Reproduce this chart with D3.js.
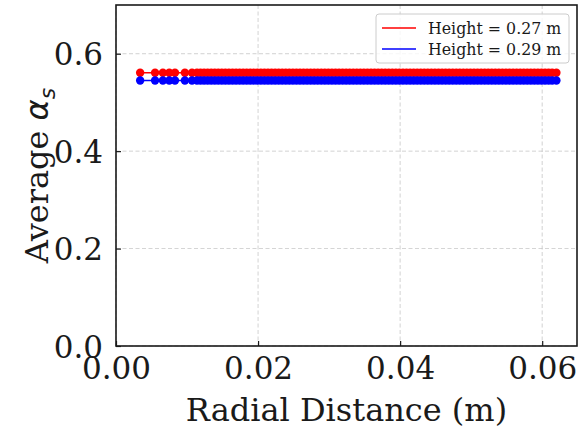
<!DOCTYPE html>
<html>
<head>
<meta charset="utf-8">
<script src="https://cdn.jsdelivr.net/npm/d3@7/dist/d3.min.js"></script>
<style>
  html, body { margin: 0; padding: 0; background: #fff; }
  svg { display: block; }
  text { font-family: "DejaVu Serif", serif; fill: #1a1a1a; }
</style>
</head>
<body>
<svg id="chart" width="579" height="434"></svg>
<script>
// Radial sample positions (m)
const radialDistance = [
  0.0034, 0.0055, 0.0066, 0.0075, 0.0083, 0.0097, 0.0107, 0.0114,
  0.0119, 0.0124, 0.0129, 0.0134, 0.0139, 0.0144, 0.0149, 0.0154, 0.0159, 0.0164,
  0.0169, 0.0174, 0.0179, 0.0184, 0.0189, 0.0194, 0.0199, 0.0204, 0.0209, 0.0214,
  0.0219, 0.0224, 0.0229, 0.0234, 0.0239, 0.0244, 0.0249, 0.0254, 0.0259, 0.0264,
  0.0269, 0.0274, 0.0279, 0.0284, 0.0289, 0.0294, 0.0299, 0.0304, 0.0309, 0.0314,
  0.0319, 0.0324, 0.0329, 0.0334, 0.0339, 0.0344, 0.0349, 0.0354, 0.0359, 0.0364,
  0.0369, 0.0374, 0.0379, 0.0384, 0.0389, 0.0394, 0.0399, 0.0404, 0.0409, 0.0414,
  0.0419, 0.0424, 0.0429, 0.0434, 0.0439, 0.0444, 0.0449, 0.0454, 0.0459, 0.0464,
  0.0469, 0.0474, 0.0479, 0.0484, 0.0489, 0.0494, 0.0499, 0.0504, 0.0509, 0.0514,
  0.0519, 0.0524, 0.0529, 0.0534, 0.0539, 0.0544, 0.0549, 0.0554, 0.0559, 0.0564,
  0.0569, 0.0574, 0.0579, 0.0584, 0.0589, 0.0594, 0.0599, 0.0604, 0.0609, 0.0614,
  0.0620
];
// Average solid fraction at each height
const alphaH027 = 0.561;
const alphaH029 = 0.545;
const seriesNames = ["Height = 0.27 m", "Height = 0.29 m"];
const seriesColors = ["#ff0000", "#0000ff"];
const xTicks = [0.00, 0.02, 0.04, 0.06];
const yTicks = [0.0, 0.2, 0.4, 0.6];

const series = [
  { name: seriesNames[0], color: seriesColors[0], values: radialDistance.map(r => ({ r, a: alphaH027 })) },
  { name: seriesNames[1], color: seriesColors[1], values: radialDistance.map(r => ({ r, a: alphaH029 })) }
];

const svg = d3.select("#chart");
const m = { left: 116, top: 5, right: 577, bottom: 346 };

const x = d3.scaleLinear().domain([0, 0.0649]).range([m.left, m.right]);
const y = d3.scaleLinear().domain([0, 0.7]).range([m.bottom, m.top]);

// grid
const grid = svg.append("g");
grid.selectAll(".gx").data(xTicks).join("line")
  .attr("x1", d => x(d)).attr("x2", d => x(d))
  .attr("y1", m.top).attr("y2", m.bottom)
  .attr("stroke", "#b0b0b0").attr("stroke-width", 0.8).attr("stroke-dasharray", "4,2.5").attr("opacity", 0.7);
grid.selectAll(".gy").data(yTicks).join("line")
  .attr("y1", d => y(d)).attr("y2", d => y(d))
  .attr("x1", m.left).attr("x2", m.right)
  .attr("stroke", "#b0b0b0").attr("stroke-width", 0.8).attr("stroke-dasharray", "4,2.5").attr("opacity", 0.7);

// series
const line = d3.line().x(d => x(d.r)).y(d => y(d.a));
series.forEach(s => {
  const g = svg.append("g");
  g.append("path").datum(s.values).attr("d", line)
    .attr("fill", "none").attr("stroke", s.color).attr("stroke-width", 1.5);
  g.selectAll("circle").data(s.values).join("circle")
    .attr("cx", d => x(d.r)).attr("cy", d => y(d.a)).attr("r", 4.2)
    .attr("fill", s.color);
});

// axes with inward ticks
const xAxis = d3.axisBottom(x).tickValues(xTicks).tickFormat(d3.format(".2f"))
  .tickSizeInner(-5).tickSizeOuter(0).tickPadding(11);
const yAxis = d3.axisLeft(y).tickValues(yTicks).tickFormat(d3.format(".1f"))
  .tickSizeInner(-5).tickSizeOuter(0).tickPadding(13);

const gx = svg.append("g").attr("transform", `translate(0,${m.bottom})`).call(xAxis);
const gy = svg.append("g").attr("transform", `translate(${m.left},0)`).call(yAxis);
[gx, gy].forEach(g => {
  g.select(".domain").remove();
  g.selectAll(".tick line").attr("stroke", "#1a1a1a").attr("stroke-width", 1.2);
  g.selectAll(".tick text").attr("font-family", "DejaVu Serif").attr("font-size", 31).attr("fill", "#1a1a1a");
});
gx.selectAll(".tick text").attr("dy", "0.71em");
gy.selectAll(".tick text").attr("dy", "0.36em");

// frame
svg.append("rect").attr("x", m.left).attr("y", m.top)
  .attr("width", m.right - m.left).attr("height", m.bottom - m.top)
  .attr("fill", "none").attr("stroke", "#1a1a1a").attr("stroke-width", 1.6);

// axis titles
svg.append("text").attr("x", (m.left + m.right) / 2).attr("y", 421)
  .attr("text-anchor", "middle").attr("font-size", 32).text("Radial Distance (m)");

const yl = svg.append("text").attr("transform", `translate(48,${(m.top + m.bottom) / 2}) rotate(-90)`)
  .attr("text-anchor", "middle").attr("font-size", 32);
yl.append("tspan").text("Average ");
yl.append("tspan").attr("font-family", "DejaVu Sans").attr("font-style", "italic").text("α");
yl.append("tspan").attr("font-family", "DejaVu Sans").attr("font-style", "italic")
  .attr("font-size", 22).attr("dy", 7).text("s");

// legend
const lg = svg.append("g");
lg.append("rect").attr("x", 376).attr("y", 14).attr("width", 193).attr("height", 49)
  .attr("rx", 3).attr("fill", "#fff").attr("fill-opacity", 0.8)
  .attr("stroke", "#cccccc").attr("stroke-width", 1);
series.forEach((s, i) => {
  const yy = 28 + i * 21;
  lg.append("line").attr("x1", 382).attr("x2", 416).attr("y1", yy).attr("y2", yy)
    .attr("stroke", s.color).attr("stroke-width", 1.5);
  lg.append("text").attr("x", 428).attr("y", yy).attr("dy", "0.35em")
    .attr("font-size", 15.8).text(s.name);
});
</script>
</body>
</html>
